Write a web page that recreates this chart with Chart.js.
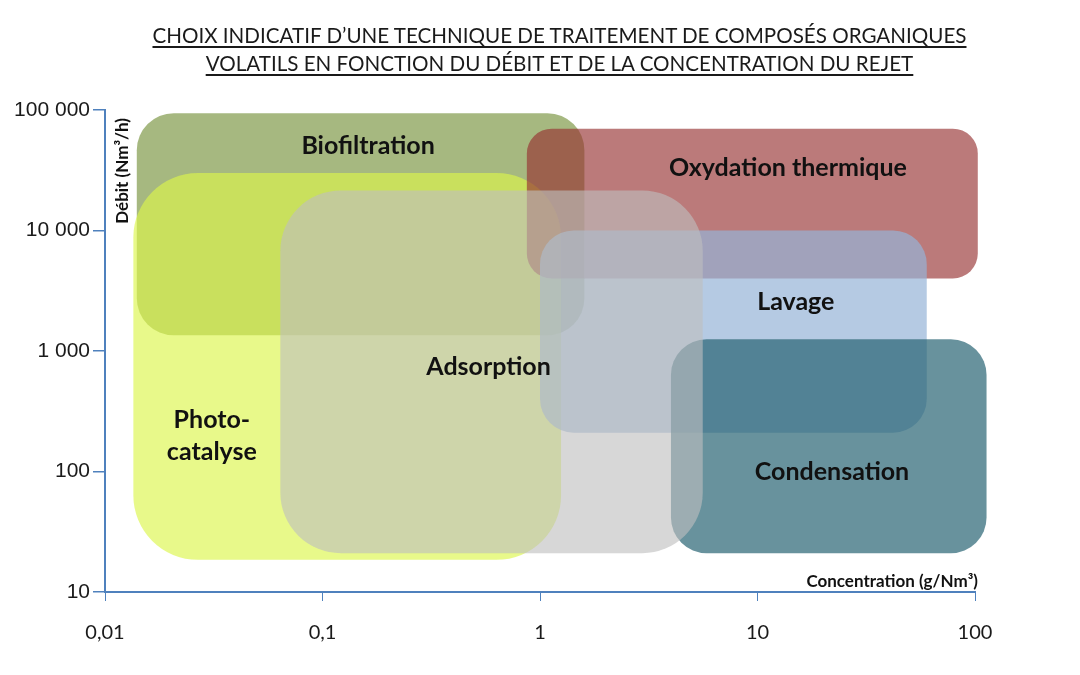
<!DOCTYPE html>
<html lang="fr">
<head>
<meta charset="utf-8">
<title>Choix indicatif d'une technique de traitement des COV</title>
<script src="https://cdn.jsdelivr.net/npm/chart.js@4.4.1/dist/chart.umd.min.js"></script>
<style>
    html, body { margin: 0; padding: 0; background: #ffffff; }
    #wrap { position: relative; width: 1080px; height: 675px; }
    #title {
        position: absolute; left: 0; top: 21px; width: 1119px;
        text-align: center; font-family: Lato, sans-serif; font-size: 20.6px;
        line-height: 28px; color: #1a1a1a; text-decoration: underline;
        text-underline-offset: 3px;
    }
    #chart { position: absolute; left: 0; top: 0; }
</style>
</head>
<body>
<div id="wrap">
    <canvas id="chart" width="1080" height="675"></canvas>
    <div id="title">CHOIX INDICATIF D’UNE TECHNIQUE DE TRAITEMENT DE COMPOSÉS ORGANIQUES<br>VOLATILS EN FONCTION DU DÉBIT ET DE LA CONCENTRATION DU REJET</div>
</div>
<script>
// Data, in drawing order (bottom to top)
const techniques = ['Biofiltration', 'Photo-\ncatalyse', 'Oxydation thermique', 'Lavage', 'Condensation', 'Adsorption'];
const concMin = [0.014, 0.0135, 0.87, 1.0, 4.0, 0.064];      // g/Nm3
const concMax = [1.6, 1.25, 103, 60, 113, 5.6];
const debitMin = [1350, 18.5, 4000, 210, 21, 21];             // Nm3/h
const debitMax = [94000, 30000, 70000, 10000, 1250, 21500];
// where each name sits, in data units
const labelConc = [0.162, 0.031, 13.8, 15, 22, 0.58];
const labelDebit = [50000, 197, 33000, 2550, 99, 740];

const concTicks = [0.01, 0.1, 1, 10, 100];
const concTickLabels = ['0,01', '0,1', '1', '10', '100'];
const debitTicks = [10, 100, 1000, 10000, 100000];
const debitTickLabels = ['10', '100', '1 000', '10 000', '100 000'];

const boxColors = [
    'rgba(118, 146, 60, 0.65)',
    'rgba(220, 246, 75, 0.65)',
    'rgba(151, 51, 51, 0.65)',
    'rgba(149, 179, 215, 0.7)',
    'rgba(40, 100, 115, 0.7)',
    'rgba(190, 190, 190, 0.62)'
];
const axisBlue = '#4f81bd';

// Draws the technique areas as rounded boxes placed through the chart scales
const zonesPlugin = {
    id: 'zones',
    beforeDatasetsDraw(chart) {
        const { ctx, scales: { x, y } } = chart;
        ctx.save();
        techniques.forEach((name, i) => {
            const x1 = x.getPixelForValue(concMin[i]);
            const x2 = x.getPixelForValue(concMax[i]);
            const y1 = y.getPixelForValue(debitMax[i]);
            const y2 = y.getPixelForValue(debitMin[i]);
            const w = x2 - x1, h = y2 - y1;
            ctx.beginPath();
            ctx.roundRect(x1, y1, w, h, Math.min(w, h) / 6);
            ctx.fillStyle = boxColors[i];
            ctx.fill();
        });
        ctx.restore();
    },
    afterDatasetsDraw(chart) {
        const { ctx, chartArea, scales: { x, y } } = chart;
        ctx.save();
        ctx.fillStyle = '#111111';
        ctx.textAlign = 'center';
        ctx.textBaseline = 'middle';
        ctx.font = 'bold 25px Lato';
        techniques.forEach((name, i) => {
            const lines = name.split('\n');
            const cx = x.getPixelForValue(labelConc[i]);
            const cy = y.getPixelForValue(labelDebit[i]);
            const lh = 32;
            lines.forEach((line, k) => {
                ctx.fillText(line, cx, cy + (k - (lines.length - 1) / 2) * lh);
            });
        });

        // axis titles, drawn inside the plot like the original
        ctx.font = 'bold 17px Lato';
        ctx.textAlign = 'right';
        ctx.textBaseline = 'bottom';
        ctx.fillText('Concentration (g/Nm³)', chartArea.right + 3, chartArea.bottom - 2);

        ctx.translate(chartArea.left + 26, chartArea.top + 8);
        ctx.rotate(-Math.PI / 2);
        ctx.textAlign = 'right';
        ctx.textBaseline = 'bottom';
        ctx.fillText('Débit (Nm³/h)', 0, 0);
        ctx.restore();
    }
};

new Chart(document.getElementById('chart'), {
    type: 'scatter',
    data: { datasets: [] },
    options: {
        responsive: false,
        animation: false,
        layout: { padding: { top: 110, right: 105, left: 0, bottom: 0 } },
        plugins: {
            legend: { display: false },
            tooltip: { enabled: false },
            title: { display: false }
        },
        scales: {
            x: {
                type: 'logarithmic',
                min: 0.01,
                max: 100,
                afterBuildTicks: (scale) => { scale.ticks = concTicks.map(v => ({ value: v })); },
                afterFit: (scale) => { scale.height = 83; },
                ticks: {
                    callback: (v, i) => concTickLabels[i],
                    color: '#1a1a1a',
                    font: { family: 'Lato', size: 20 },
                    padding: 20,
                    maxRotation: 0,
                    autoSkip: false
                },
                grid: { drawOnChartArea: false, tickLength: 9, color: axisBlue, lineWidth: 1 },
                border: { display: true, color: axisBlue, width: 2 }
            },
            y: {
                type: 'logarithmic',
                min: 10,
                max: 100000,
                afterBuildTicks: (scale) => { scale.ticks = debitTicks.map(v => ({ value: v })); },
                afterFit: (scale) => { scale.width = 105; },
                ticks: {
                    callback: (v, i) => debitTickLabels[i],
                    color: '#1a1a1a',
                    font: { family: 'Liberation Sans', size: 21 },
                    padding: 3,
                    autoSkip: false
                },
                grid: { drawOnChartArea: false, tickLength: 12, color: axisBlue, lineWidth: 1.5 },
                border: { display: true, color: axisBlue, width: 2 }
            }
        }
    },
    plugins: [zonesPlugin]
});
</script>
</body>
</html>
